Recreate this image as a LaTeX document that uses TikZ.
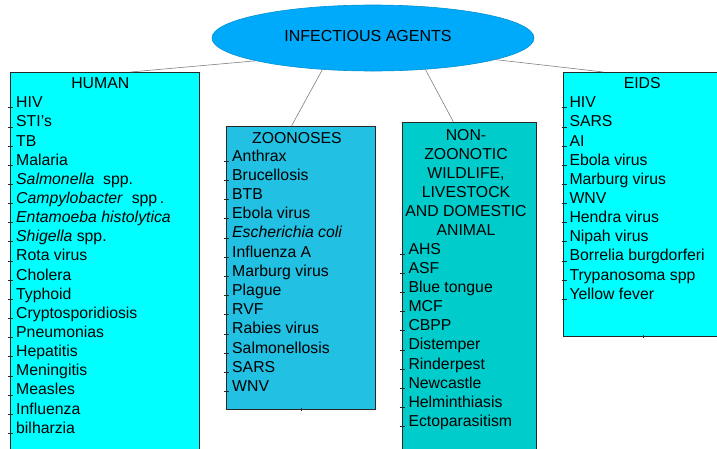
\documentclass[tikz,border=0pt]{standalone}
\usepackage{fontspec}
\setmainfont{Liberation Sans}
\usetikzlibrary{shapes.geometric}
\definecolor{ellblue}{RGB}{0,170,250}
\definecolor{cyanbox}{RGB}{0,255,255}
\definecolor{zoobox}{RGB}{34,192,226}
\definecolor{nonbox}{RGB}{0,204,204}
\definecolor{edgecol}{RGB}{40,40,40}
\begin{document}
\begin{tikzpicture}[x=1pt,y=-1pt,
  box/.style={draw=edgecol,line width=0.9pt,rectangle,inner sep=0pt,anchor=north west},
  item/.style={anchor=base west,inner sep=0pt,font=\fontsize{15.8}{19}\selectfont},
  title/.style={anchor=base,inner sep=0pt,font=\fontsize{15.8}{19}\selectfont},
  conn/.style={draw=gray,line width=0.6pt},
  tickmark/.style={draw=edgecol,line width=0.6pt}]

\useasboundingbox (0,0) rectangle (717,448);

% top ellipse
\node[ellipse,fill=ellblue,draw=ellblue!85!black,line width=0.6pt,
      minimum width=322pt,minimum height=66pt,inner sep=0pt] (agents) at (373,38) {};
\node[title,font=\fontsize{16}{19}\selectfont] (agentsText) at (368,41) {INFECTIOUS AGENTS};

% boxes
\node[box,fill=cyanbox,minimum width=189pt,minimum height=380pt] (human) at (10,72) {};
\node[box,fill=zoobox,minimum width=149pt,minimum height=283pt] (zoo) at (226,126) {};
\node[box,fill=nonbox,minimum width=134pt,minimum height=330pt] (non) at (402,122) {};
\node[box,fill=cyanbox,minimum width=160pt,minimum height=264pt] (eids) at (563,72) {};

% connectors
\draw[conn] (agents.191) -- ([xshift=25.5pt]human.north);
\draw[conn] (agents.212) -- ([xshift=-9.5pt]zoo.north);
\draw[conn] (agents.329) -- ([xshift=-16pt]non.north);
\draw[conn] (agents.350) -- ([xshift=-40pt]eids.north);

% titles
\node[title] (humanT) at (100.3,88.3) {HUMAN};
\node[title] (zooT) at (297,143.3) {ZOONOSES};
\node[title] (eidsT) at (642.2,88.3) {EIDS};
\foreach [count=\i from 0] \t in {NON-,ZOONOTIC,{WILDLIFE,},LIVESTOCK,AND DOMESTIC,ANIMAL}
  \node[title] (nonT\i) at (466,{140+19.1*\i}) {\t};

% HUMAN list
\foreach [count=\i from 0] \t in {HIV,STI's,TB,Malaria,
  {\textit{Salmonella}\ \ spp.},{\textit{Campylobacter}\ \ spp\,.},
  {\textit{Entamoeba histolytica}},{\textit{Shigella}\ spp.},
  Rota virus,Cholera,Typhoid,Cryptosporidiosis,Pneumonias,Hepatitis,
  Meningitis,Measles,Influenza,bilharzia}{
  \node[item] (h\i) at (16,{107.7+19.15*\i}) {\t};
  \draw[tickmark] ([xshift=-7.7pt]h\i.base west) -- ([xshift=-2.7pt]h\i.base west);
}

% ZOONOSES list
\foreach [count=\i from 0] \t in {Anthrax,Brucellosis,BTB,Ebola virus,
  {\textit{Escherichia coli}},Influenza A,Marburg virus,Plague,RVF,
  Rabies virus,Salmonellosis,SARS,WNV}{
  \node[item] (z\i) at (232,{161+19.22*\i}) {\t};
  \draw[tickmark] ([xshift=-8pt]z\i.base west) -- ([xshift=-3pt]z\i.base west);
}

% NON-ZOONOTIC list
\foreach [count=\i from 0] \t in {AHS,ASF,Blue tongue,MCF,CBPP,Distemper,
  Rinderpest,Newcastle,Helminthiasis,Ectoparasitism}{
  \node[item] (n\i) at (408.3,{254+19.19*\i}) {\t};
  \draw[tickmark] ([xshift=-8.3pt]n\i.base west) -- ([xshift=-3.3pt]n\i.base west);
}

% EIDS list
\foreach [count=\i from 0] \t in {HIV,SARS,AI,Ebola virus,Marburg virus,WNV,
  Hendra virus,Nipah virus,Borrelia burgdorferi,Trypanosoma spp,Yellow fever}{
  \node[item] (e\i) at (569.3,{107.7+19.15*\i}) {\t};
  \draw[tickmark] ([xshift=-7.6pt]e\i.base west) -- ([xshift=-2pt]e\i.base west);
}

% small marks at box bottoms
\draw[tickmark] ([yshift=1.5pt]zoo.south) -- ([yshift=-1.5pt]zoo.south);
\draw[tickmark] ([yshift=1.5pt]eids.south) -- ([yshift=-1.5pt]eids.south);
\end{tikzpicture}
\end{document}
